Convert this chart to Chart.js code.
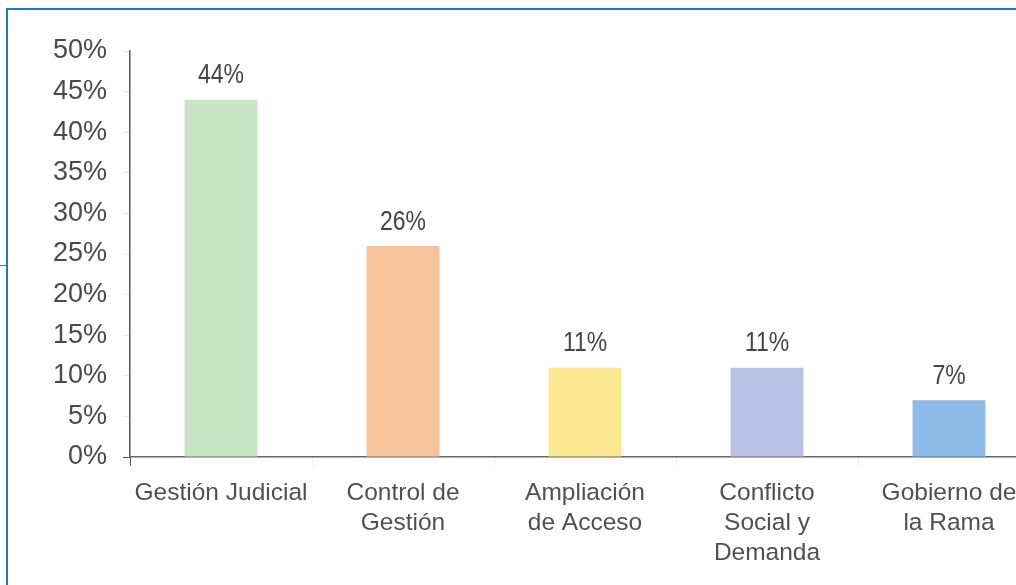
<!DOCTYPE html>
<html lang="es">
<head>
<meta charset="utf-8">
<title>Distribución por línea de acción</title>
<script src="https://cdn.jsdelivr.net/npm/chart.js@4.4.1/dist/chart.umd.min.js"></script>
<style>
  html, body { margin: 0; padding: 0; background: #fff; }
  body { width: 1016px; height: 585px; overflow: hidden; position: relative; }
  .marco {
    position: absolute; left: 6px; top: 8px; right: -4px; bottom: -4px;
    border-top: 2px solid #2079c4; border-left: 2px solid #2079c4;
  }
  .marca { position: absolute; left: 0; top: 265px; width: 7px; height: 1px; background: #2079c4; }
  #grafico { position: absolute; left: 0; top: 0; }
</style>
</head>
<body>
<div class="marco"></div>
<div class="marca"></div>
<canvas id="grafico" width="1040" height="585"></canvas>
<script>
// Categorías (en varias líneas como en el eje)
const categorias = [
  'Gestión Judicial',
  ['Control de', 'Gestión'],
  ['Ampliación', 'de Acceso'],
  ['Conflicto', 'Social y', 'Demanda'],
  ['Gobierno de', 'la Rama']
];
const porcentajes = [44, 26, 11, 11, 7];
const colores = ['#c7e4c5', '#f6c39b', '#fce891', '#b9c1e4', '#8dbce9'];
const ticksEje = [0, 5, 10, 15, 20, 25, 30, 35, 40, 45, 50];

// Escribe el porcentaje encima de cada barra (letra estrecha)
const etiquetasBarras = {
  id: 'etiquetasBarras',
  afterDatasetsDraw(chart) {
    const ctx = chart.ctx;
    const meta = chart.getDatasetMeta(0);
    const estrechar = 0.82;
    ctx.save();
    ctx.font = "28px 'Liberation Sans', Arial, sans-serif";
    ctx.fillStyle = '#454545';
    ctx.textAlign = 'center';
    ctx.textBaseline = 'middle';
    meta.data.forEach(function (barra, i) {
      ctx.save();
      ctx.translate(barra.x, barra.y - 24);
      ctx.scale(estrechar, 1);
      ctx.fillText(porcentajes[i] + '%', 0, 0);
      ctx.restore();
    });
    ctx.restore();
  }
};

const ctx = document.getElementById('grafico').getContext('2d');

new Chart(ctx, {
  type: 'bar',
  data: {
    labels: categorias,
    datasets: [{
      data: porcentajes,
      backgroundColor: colores,
      borderWidth: 0,
      barPercentage: 0.4,
      categoryPercentage: 1
    }]
  },
  options: {
    responsive: false,
    animation: false,
    layout: { padding: { top: 51, left: 0, right: 0, bottom: 0 } },
    plugins: {
      legend: { display: false },
      tooltip: { enabled: false }
    },
    scales: {
      y: {
        min: 0,
        max: 50,
        afterBuildTicks(scale) {
          scale.ticks = ticksEje.map(v => ({ value: v }));
        },
        afterFit(scale) { scale.width = 130; },
        ticks: {
          padding: 16,
          color: '#4a4a4a',
          font: { family: "'Liberation Sans', Arial, sans-serif", size: 27 },
          callback: v => v + '%'
        },
        grid: {
          drawOnChartArea: false,
          tickLength: 7,
          color: ctx => (ctx.tick && ctx.tick.value === 0) ? '#555' : '#ededed'
        },
        border: { color: '#555', width: 1.5 }
      },
      x: {
        afterFit(scale) { scale.height = 128; },
        ticks: {
          padding: 12,
          maxRotation: 0,
          autoSkip: false,
          color: '#505050',
          font: { family: "'Liberation Sans', Arial, sans-serif", size: 24.5, lineHeight: 1.23 }
        },
        grid: {
          offset: true,
          drawOnChartArea: false,
          tickLength: 9,
          color: ctx => ctx.index === 0 ? '#555' : '#f0f0f0'
        },
        border: { color: '#666', width: 1.5 }
      }
    }
  },
  plugins: [etiquetasBarras]
});
</script>
</body>
</html>
